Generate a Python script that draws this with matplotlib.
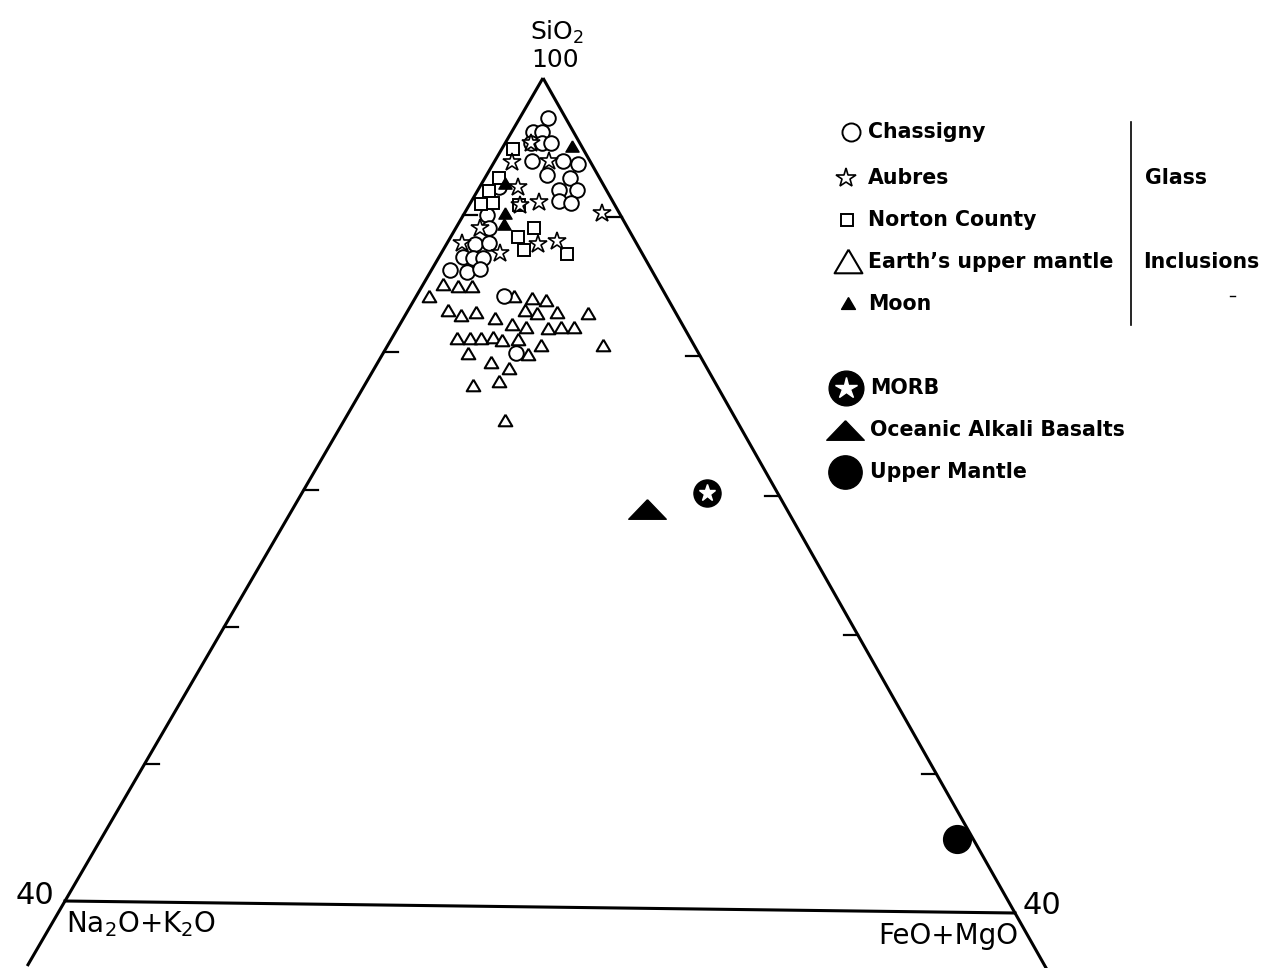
import matplotlib
matplotlib.use("Agg")
import matplotlib.pyplot as plt
import numpy as np

# ---------------- data (wt %, SiO2 / Na2O+K2O / FeO+MgO) ----------------
chassigny_sio2 = [97.1, 96.1, 96.1, 95.3, 95.3, 95.3, 94.0, 94.0, 93.8, 93.0, 92.8, 91.9, 91.9, 91.1,
                  91.0, 92.1, 90.0, 89.1, 87.9, 88.0, 87.0, 86.9, 86.9, 86.0, 85.9, 86.1, 84.2, 80.1]
chassigny_alk = [1.1, 2.6, 2.0, 3.1, 2.4, 1.8, 3.7, 1.7, 0.9, 3.2, 1.9, 3.0, 1.9, 3.4,
                 2.7, 6.7, 8.5, 8.8, 10.3, 9.4, 11.5, 10.9, 10.3, 12.8, 11.8, 10.9, 10.3, 11.6]
chassigny_femg = [1.8, 1.3, 1.9, 1.6, 2.3, 2.9, 2.3, 4.3, 5.3, 3.8, 5.3, 5.1, 6.2, 5.5,
                  6.3, 1.2, 1.5, 2.1, 1.8, 2.6, 1.5, 2.2, 2.8, 1.2, 2.3, 3.0, 5.5, 8.3]

aubres_sio2 = [95.3, 93.9, 94.0, 92.1, 91.0, 90.8, 90.3, 89.1, 88.0, 87.3, 88.0, 88.2]
aubres_alk = [3.1, 5.0, 2.6, 5.5, 4.7, 6.0, 1.1, 9.4, 11.1, 9.0, 6.3, 5.0]
aubres_femg = [1.6, 1.1, 3.4, 2.4, 4.3, 3.2, 8.6, 1.5, 0.9, 3.7, 5.7, 6.8]

norton_sio2 = [94.8, 92.7, 91.8, 90.9, 90.8, 90.8, 89.1, 88.5, 87.5, 87.3]
norton_alk = [4.5, 6.4, 7.5, 7.7, 8.5, 6.1, 6.0, 7.3, 7.4, 4.8]
norton_femg = [0.7, 0.9, 0.7, 1.4, 0.7, 3.1, 4.9, 4.2, 5.1, 7.9]

mantle_incl_sio2 = [85.0, 84.9, 84.9, 84.1, 84.2, 84.1, 83.9, 83.1, 82.8, 83.0, 82.6, 83.2, 83.0, 83.1,
                    83.0, 82.2, 82.0, 81.9, 82.0, 82.0, 81.1, 81.1, 81.1, 81.2, 81.0, 81.1, 80.7, 80.7,
                    80.0, 80.0, 79.4, 79.0, 78.0, 77.7, 75.2]
mantle_incl_alk = [13.8, 12.9, 12.0, 15.1, 9.7, 8.6, 7.8, 14.4, 13.7, 12.7, 11.7, 9.5, 8.8, 7.5,
                   5.6, 10.8, 10.0, 8.7, 7.8, 7.0, 14.8, 14.0, 13.3, 12.5, 12.0, 11.0, 9.7, 5.8,
                   14.7, 10.9, 13.5, 12.6, 13.7, 15.5, 14.7]
mantle_incl_femg = [1.2, 2.2, 3.1, 0.8, 6.1, 7.3, 8.3, 2.5, 3.5, 4.3, 5.7, 7.3, 8.2, 9.4,
                    11.4, 7.0, 8.0, 9.4, 10.2, 11.0, 4.1, 4.9, 5.6, 6.3, 7.0, 7.9, 9.6, 13.5,
                    5.3, 9.1, 7.1, 8.4, 8.3, 6.8, 10.1]

moon_sio2 = [95.1, 92.4, 90.2, 89.4]
moon_alk = [0.6, 6.2, 7.3, 7.7]
moon_femg = [4.3, 1.4, 2.5, 2.9]

morb = (70.1, 4.5, 25.4)
alkali_basalt = (68.9, 8.9, 22.2)
upper_mantle = (45.3, 1.0, 53.7)

tick_values = [90, 80, 70, 60, 50]
legend_glass = ["Chassigny", "Aubres", "Norton County", "Earth\u2019s upper mantle", "Moon"]
legend_ref = ["MORB", "Oceanic Alkali Basalts", "Upper Mantle"]

# ---------------- layout (figure pixel frame) ----------------
APEX = np.array([543.0, 78.0])
LEFT = np.array([65.0, 901.0])
RIGHT = np.array([1015.0, 913.0])
SMIN = 40.0


def tern(sio2, alk, femg):
    s = np.atleast_1d(np.asarray(sio2, float))
    a = np.atleast_1d(np.asarray(alk, float))
    f = np.atleast_1d(np.asarray(femg, float))
    tot = s + a + f
    s, a, f = s / tot * 100, a / tot * 100, f / tot * 100
    span = 100.0 - SMIN
    ws, wa, wf = (s - SMIN) / span, a / span, f / span
    x = ws * APEX[0] + wa * LEFT[0] + wf * RIGHT[0]
    y = ws * APEX[1] + wa * LEFT[1] + wf * RIGHT[1]
    return x, y


fig = plt.figure(figsize=(12.67, 9.68), dpi=100)
ax = fig.add_axes([0, 0, 1, 1])
ax.set_xlim(0, 1267)
ax.set_ylim(968, 0)
ax.axis("off")

LW = 2.2
# sides (extended below the base as in the original)
ext = 1.079
lp = APEX + (LEFT - APEX) * ext
rp = APEX + (RIGHT - APEX) * ext
ax.plot([APEX[0], lp[0]], [APEX[1], lp[1]], color="black", lw=LW, solid_capstyle="butt")
ax.plot([APEX[0], rp[0]], [APEX[1], rp[1]], color="black", lw=LW, solid_capstyle="butt")
ax.plot([LEFT[0], RIGHT[0]], [LEFT[1], RIGHT[1]], color="black", lw=LW)

# ticks
for v in tick_values:
    x, y = tern(v, 100 - v, 0)
    ax.plot([x[0], x[0] + 14], [y[0], y[0]], color="black", lw=1.6)
    x, y = tern(v, 0, 100 - v)
    ax.plot([x[0] - 14, x[0]], [y[0], y[0]], color="black", lw=1.6)

tri_v = [(0, 0.85), (-1, -0.85), (1, -0.85), (0, 0.85)]
flat_v = [(0, 0.52), (-1, -0.52), (1, -0.52), (0, 0.52)]

mk = dict(linestyle="none", mec="black")
x, y = tern(mantle_incl_sio2, mantle_incl_alk, mantle_incl_femg)
ax.plot(x, y, marker=tri_v, ms=9.8, mfc="white", mew=1.5, zorder=3, **mk)
x, y = tern(chassigny_sio2, chassigny_alk, chassigny_femg)
ax.plot(x, y, marker="o", ms=10.5, mfc="white", mew=1.4, zorder=4, **mk)
x, y = tern(norton_sio2, norton_alk, norton_femg)
ax.plot(x, y, marker="s", ms=9, mfc="white", mew=1.4, zorder=5, **mk)
x, y = tern(aubres_sio2, aubres_alk, aubres_femg)
ax.plot(x, y, marker="*", ms=13.5, mfc="white", mew=1.2, zorder=6, **mk)
x, y = tern(moon_sio2, moon_alk, moon_femg)
ax.plot(x, y, marker=tri_v, ms=9.5, mfc="black", mew=1.0, zorder=7, **mk)

x, y = tern(*morb)
ax.plot(x, y, marker="o", ms=19.5, mfc="black", mec="black", linestyle="none", zorder=8)
ax.plot(x, y, marker="*", ms=12.5, mfc="white", mec="white", linestyle="none", zorder=9)
x, y = tern(*alkali_basalt)
ax.plot(x, y, marker=flat_v, ms=27, mfc="black", mec="black", linestyle="none", zorder=8)
x, y = tern(*upper_mantle)
ax.plot(x, y, marker="o", ms=20, mfc="black", mec="black", linestyle="none", zorder=8)

# corner labels
lab = dict(family="DejaVu Sans", color="black")
ax.text(557, 32, "SiO$_2$", fontsize=18, ha="center", va="center", **lab)
ax.text(555, 60, "100", fontsize=18, ha="center", va="center", **lab)
ax.text(35, 895, "40", fontsize=22, ha="center", va="center", **lab)
ax.text(1042, 906, "40", fontsize=22, ha="center", va="center", **lab)
ax.text(66, 924, "Na$_2$O+K$_2$O", fontsize=20, ha="left", va="center", **lab)
ax.text(1018, 936, "FeO+MgO", fontsize=20, ha="right", va="center", **lab)

# legend
lt = dict(family="DejaVu Sans", fontweight="bold", fontsize=14.8, va="center", ha="left")
leg_y = [132, 178, 220, 262, 304]
ax.plot(851, leg_y[0], marker="o", ms=13, mfc="white", mec="black", mew=1.4)
ax.plot(846, leg_y[1], marker="*", ms=15, mfc="white", mec="black", mew=1.2)
ax.plot(847, leg_y[2], marker="s", ms=9, mfc="white", mec="black", mew=1.4)
ax.plot(848, leg_y[3] - 1, marker=tri_v, ms=20, mfc="white", mec="black", mew=1.5)
ax.plot(848, leg_y[4] - 1, marker=tri_v, ms=10, mfc="black", mec="black", mew=1.0)
for i, name in enumerate(legend_glass):
    ax.text(868, leg_y[i], name, **lt)
ax.plot([1131, 1131], [122, 325], color="black", lw=1.2)
ax.text(1145, 178, "Glass", **lt)
ax.text(1143, 262, "Inclusions", **lt)
ax.plot([1230, 1235], [296, 296], color="black", lw=1.0)

ref_y = [388, 430, 472]
ax.plot(846, ref_y[0], marker="o", ms=25, mfc="black", mec="black")
ax.plot(846, ref_y[0], marker="*", ms=16, mfc="white", mec="white")
ax.plot(845, ref_y[1], marker=flat_v, ms=27, mfc="black", mec="black")
ax.plot(845, ref_y[2], marker="o", ms=24, mfc="black", mec="black")
for i, name in enumerate(legend_ref):
    ax.text(870, ref_y[i], name, **lt)

fig.savefig("out.png", dpi=100, facecolor="white")
